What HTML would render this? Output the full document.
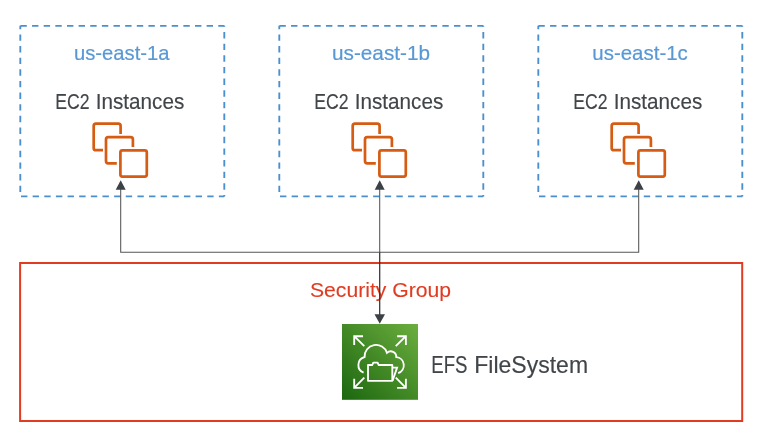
<!DOCTYPE html>
<html><head><meta charset="utf-8">
<style>
html,body{margin:0;padding:0;background:#fff;width:774px;height:430px;overflow:hidden}
svg{display:block;will-change:transform}
text{font-family:"Liberation Sans",sans-serif}
</style></head>
<body>
<svg width="774" height="430" viewBox="0 0 774 430">
<defs>
<linearGradient id="g" x1="0" y1="1" x2="1" y2="0">
<stop offset="0" stop-color="#1B660F"/><stop offset="1" stop-color="#6CAE3E"/>
</linearGradient>
<g id="zone">
  <line x1="20.3" y1="25.8" x2="224.3" y2="25.8" stroke-dasharray="6.4 5.24" stroke-dashoffset="-0.1"/>
  <line x1="224.3" y1="25.8" x2="224.3" y2="196.4" stroke-dasharray="6.4 5.24" stroke-dashoffset="5.4"/>
  <line x1="20.3" y1="196.4" x2="224.3" y2="196.4" stroke-dasharray="6.4 5.24" stroke-dashoffset="-0.7"/>
  <line x1="20.3" y1="196.4" x2="20.3" y2="25.8" stroke-dasharray="6.4 5.24" stroke-dashoffset="-4.3"/>
</g>
<g id="ec2" fill="none" stroke="#D55C12" stroke-width="2.7">
  <path d="M103 150.2 H96 Q93.7 150.2 93.7 148.2 V126 Q93.7 123.7 96 123.7 H118.3 Q120.6 123.7 120.6 126 V134"/>
  <path d="M116.8 163.4 H108.3 Q106 163.4 106 161.1 V139.4 Q106 137.1 108.3 137.1 H130.6 Q132.9 137.1 132.9 139.4 V147"/>
  <rect x="120.4" y="150.4" width="26.4" height="26.2" rx="2"/>
</g>
</defs>

<g fill="none" stroke="#4A90D0" stroke-width="1.85">
  <use href="#zone"/>
  <use href="#zone" x="259"/>
  <use href="#zone" x="518"/>
</g>

<g font-size="20.8" fill="#5898D5" stroke="#5898D5" stroke-width="0.2">
  <text x="74" y="60.1" textLength="95.5" lengthAdjust="spacingAndGlyphs">us-east-1a</text>
  <text x="332" y="60.1" textLength="98" lengthAdjust="spacingAndGlyphs">us-east-1b</text>
  <text x="592.3" y="60.1" textLength="95.5" lengthAdjust="spacingAndGlyphs">us-east-1c</text>
</g>
<g font-size="21.4" fill="#404549" stroke="#404549" stroke-width="0.15">
  <text x="55.3" y="109" textLength="34.3" lengthAdjust="spacingAndGlyphs">EC2</text><text x="95.7" y="109" textLength="88.6" lengthAdjust="spacingAndGlyphs">Instances</text>
  <text x="314.3" y="109" textLength="34.3" lengthAdjust="spacingAndGlyphs">EC2</text><text x="354.7" y="109" textLength="88.6" lengthAdjust="spacingAndGlyphs">Instances</text>
  <text x="573.3" y="109" textLength="34.3" lengthAdjust="spacingAndGlyphs">EC2</text><text x="613.7" y="109" textLength="88.6" lengthAdjust="spacingAndGlyphs">Instances</text>
</g>

<use href="#ec2"/>
<use href="#ec2" x="259"/>
<use href="#ec2" x="518"/>

<!-- security group -->
<rect x="20.1" y="263" width="722.1" height="158" fill="none" stroke="#E03C22" stroke-width="2"/>
<text x="310" y="297" font-size="21" fill="#E03C22" stroke="#E03C22" stroke-width="0.12" textLength="141" lengthAdjust="spacingAndGlyphs">Security Group</text>

<!-- connectors -->
<g fill="none" stroke="#555" stroke-width="1.05">
  <path d="M120.7 189 V252.3 H638.7 V189"/>
  <line x1="379.7" y1="189" x2="379.7" y2="252.3"/>
  <line x1="379.7" y1="252.3" x2="379.7" y2="315" stroke="#333" stroke-width="1.25"/>
</g>
<g fill="#3C4146">
  <path d="M120.7 180.3 L125.7 189.8 L115.7 189.8 Z"/>
  <path d="M379.7 180.3 L384.7 189.8 L374.7 189.8 Z"/>
  <path d="M638.7 180.3 L643.7 189.8 L633.7 189.8 Z"/>
  <path d="M379.75 323.8 L385 314.3 L374.5 314.3 Z"/>
</g>

<!-- EFS icon -->
<rect x="342" y="324" width="76" height="75.8" fill="url(#g)"/>
<g fill="none" stroke="#fff" stroke-width="1.85">
  <path d="M354.2 345 V336.2 H363 M354.2 336.2 L364.3 346.2"/>
  <path d="M354.2 378.8 V387.8 H363 M354.2 387.8 L364.3 377.6"/>
  <path d="M405.9 345 V336.2 H397.1 M405.9 336.2 L395.8 346.2"/>
  <path d="M405.9 378.8 V387.8 H397.1 M405.9 387.8 L395.8 377.6"/>
  <path d="M363.6 372.7 A8.28 8.28 0 0 1 364.6 357 A11.48 11.48 0 0 1 387 352.9 A5.51 5.51 0 0 1 396.3 357.2 A8.17 8.17 0 0 1 398.2 373.1"/>
  <path d="M368 365 H372.3 L373.3 362.6 H377.6 L378.6 365 H392.3 V380.8 H368 Z" stroke-linejoin="round"/>
  <path d="M392.3 367.6 H397.1 L392.6 380.6"/>
</g>
<g font-size="23.4" fill="#404549" stroke="#404549" stroke-width="0.15"><text x="431.3" y="373" textLength="36.2" lengthAdjust="spacingAndGlyphs">EFS</text><text x="474.3" y="373" textLength="113.8" lengthAdjust="spacingAndGlyphs">FileSystem</text></g>
</svg>
</body></html>
